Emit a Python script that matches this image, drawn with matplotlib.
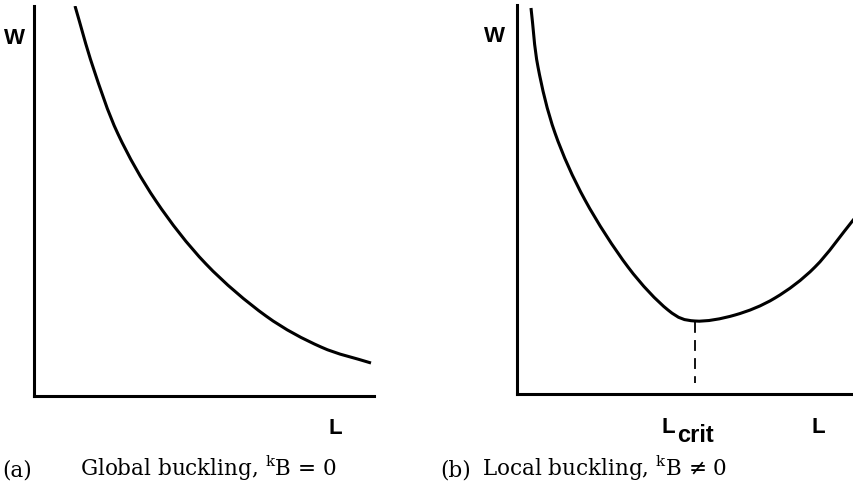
import matplotlib
matplotlib.use('Agg')
import matplotlib.pyplot as plt
from matplotlib.path import Path
from matplotlib.patches import PathPatch

# Curve (a): global buckling, W falls as L grows
L_global = [41, 59, 84, 122, 172, 232, 287, 337]
W_global = [390, 329, 262, 195, 132, 80, 49, 33]

# Curve (b): local buckling, W has a minimum at L_crit
L_local = [14, 21, 38, 68, 111, 151, 178, 218, 258, 298, 337]
W_local = [386, 327, 261, 194, 127, 84, 73, 79, 96, 127, 175]
L_crit = 178
W_min = 72

FW, FH = 854, 487
plt.rcParams['mathtext.fontset'] = 'custom'
plt.rcParams['mathtext.rm'] = 'DejaVu Serif'

fig = plt.figure(figsize=(FW / 100, FH / 100), dpi=100)


def make_axes(x0, y0, x1, y1):
    # x0,y0 = origin corner in pixels, x1 = right end, y1 = top end
    ax = fig.add_axes([x0 / FW, 1 - y0 / FH, (x1 - x0) / FW, (y0 - y1) / FH])
    ax.set_xlim(0, x1 - x0)
    ax.set_ylim(0, y0 - y1)
    for s in ['top', 'right']:
        ax.spines[s].set_visible(False)
    for s in ['left', 'bottom']:
        ax.spines[s].set_linewidth(2.2)
    ax.set_xticks([])
    ax.set_yticks([])
    ax.patch.set_visible(False)
    return ax


def smooth_curve(ax, xs, ys, **kw):
    # Catmull-Rom through the read points, drawn as cubic Bezier segments
    pts = list(zip(xs, ys))
    n = len(pts)
    verts = [pts[0]]
    codes = [Path.MOVETO]
    for i in range(n - 1):
        p1, p2 = pts[i], pts[i + 1]
        if i > 0:
            p0 = pts[i - 1]
        else:
            p0 = (2 * p1[0] - p2[0], 2 * p1[1] - p2[1])
        if i + 2 < n:
            p3 = pts[i + 2]
        else:
            p3 = (2 * p2[0] - p1[0], 2 * p2[1] - p1[1])
        c1 = (p1[0] + (p2[0] - p0[0]) / 6, p1[1] + (p2[1] - p0[1]) / 6)
        c2 = (p2[0] - (p3[0] - p1[0]) / 6, p2[1] - (p3[1] - p1[1]) / 6)
        verts += [c1, c2, p2]
        codes += [Path.CURVE4] * 3
    ax.add_patch(PathPatch(Path(verts, codes), fill=False, **kw))


ax1 = make_axes(34, 396, 374, 6)
smooth_curve(ax1, L_global, W_global, edgecolor='black', linewidth=2.2,
             capstyle='butt')

ax2 = make_axes(517, 394, 854, 5)
smooth_curve(ax2, L_local, W_local, edgecolor='black', linewidth=2.2,
             capstyle='butt', clip_on=False)
ax2.plot([L_crit, L_crit], [W_min, 11], color='black', linewidth=1.3,
         linestyle=(0, (6, 4)))


def ftext(x, y, s, **kw):
    fig.text(x / FW, 1 - y / FH, s, **kw)


sans = dict(family='Liberation Sans', fontsize=16, fontweight='bold', color='black')
ftext(14, 38, 'W', ha='center', va='center', **sans)
ftext(494, 37, 'W', ha='center', va='center', **sans)
ftext(335, 434, 'L', ha='center', va='baseline', **sans)
ftext(818, 433, 'L', ha='center', va='baseline', **sans)
ftext(662, 433, 'L', ha='left', va='baseline', **sans)
ftext(677, 442, 'crit', ha='left', va='baseline', family='Liberation Sans',
      fontsize=17, fontweight='bold', color='black')

serif = dict(family='DejaVu Serif', fontsize=15.5, color='black', va='baseline')
ftext(2, 476, '(a)', ha='left', **serif)
ftext(80, 476, r'Global buckling, $^{\mathrm{k}}$B = 0', ha='left', **serif)
ftext(440, 476, '(b)', ha='left', **serif)
ftext(482, 476, r'Local buckling, $^{\mathrm{k}}$B ≠ 0', ha='left', **serif)

fig.savefig('out.png', dpi=100)
